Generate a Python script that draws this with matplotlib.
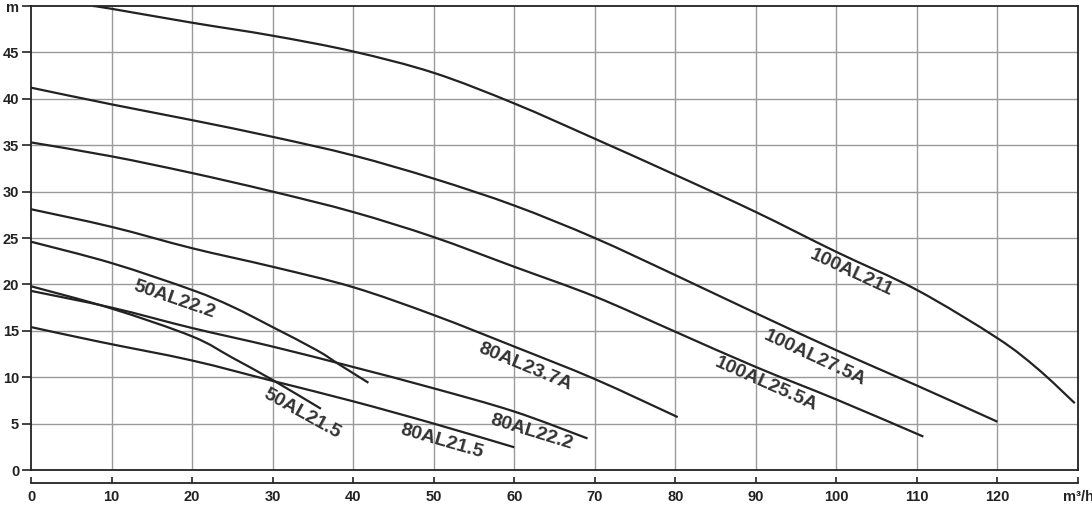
import matplotlib

matplotlib.use("Agg")
import matplotlib.pyplot as plt
from matplotlib.patches import PathPatch
from matplotlib.path import Path

# flow Q [m3/h] and head H [m]
q_100al211 = [7.7, 10, 20, 30, 40, 50, 60, 70, 80, 90, 100, 110, 120, 125, 129.6]
h_100al211 = [50.0, 49.7, 48.2, 46.8, 45.1, 42.8, 39.5, 35.7, 31.8, 27.8, 23.5, 19.4, 14.2, 10.9, 7.2]

q_100al275a = [0, 10, 20, 30, 40, 50, 60, 70, 80, 90, 100, 110, 120]
h_100al275a = [41.2, 39.4, 37.7, 35.9, 33.9, 31.4, 28.5, 25.0, 21.0, 16.9, 12.9, 9.1, 5.2]

q_100al255a = [0, 10, 20, 30, 40, 50, 60, 70, 80, 90, 100, 110.8]
h_100al255a = [35.3, 33.8, 32.0, 30.0, 27.8, 25.1, 21.9, 18.7, 14.9, 11.1, 7.6, 3.6]

q_80al237a = [0, 10, 20, 30, 40, 50, 60, 70, 80.3]
h_80al237a = [28.1, 26.2, 23.9, 21.9, 19.7, 16.7, 13.3, 9.8, 5.7]

q_50al222 = [0, 10, 20, 25, 30, 35.5, 38.4, 41.9]
h_50al222 = [24.6, 22.3, 19.4, 17.6, 15.4, 12.9, 11.3, 9.4]

q_80al222 = [0, 10, 20, 30, 40, 50, 60, 69.1]
h_80al222 = [19.3, 17.5, 15.3, 13.3, 11.1, 8.8, 6.3, 3.4]

q_50al215 = [0, 10, 20, 25, 30, 36]
h_50al215 = [19.8, 17.4, 14.4, 12.1, 9.7, 6.6]

q_80al215 = [0, 8.6, 20, 30, 40, 50, 60]
h_80al215 = [15.4, 13.8, 11.8, 9.6, 7.4, 5.0, 2.45]

curves = [
    (q_100al211, h_100al211),
    (q_100al275a, h_100al275a),
    (q_100al255a, h_100al255a),
    (q_80al237a, h_80al237a),
    (q_50al222, h_50al222),
    (q_80al222, h_80al222),
    (q_50al215, h_50al215),
    (q_80al215, h_80al215),
]

# curve names with label anchor (Q, H) and text angle
label_names = ["100AL211", "100AL27.5A", "100AL25.5A", "80AL23.7A",
               "50AL22.2", "80AL22.2", "50AL21.5", "80AL21.5"]
label_q = [101.9, 97.3, 91.3, 61.4, 17.8, 62.1, 33.7, 51.0]
label_h = [21.2, 12.0, 9.2, 11.1, 18.4, 4.1, 6.1, 3.1]
label_rot = [-25, -25, -24, -22.5, -19, -17, -29, -16]

x_ticks = list(range(0, 131, 10))
x_labels = [str(t) for t in x_ticks[:-1]] + ["m³/h"]
y_ticks = list(range(0, 51, 5))
y_labels = [str(t) for t in y_ticks[:-1]] + ["m"]


def smooth_path(xs, ys):
    """Catmull-Rom through the read points, as cubic Bezier segments."""
    pts = list(zip(xs, ys))
    verts = [pts[0]]
    codes = [Path.MOVETO]
    n = len(pts)
    for i in range(n - 1):
        p0 = pts[max(i - 1, 0)]
        p1 = pts[i]
        p2 = pts[i + 1]
        p3 = pts[min(i + 2, n - 1)]
        c1 = (p1[0] + (p2[0] - p0[0]) / 6, p1[1] + (p2[1] - p0[1]) / 6)
        c2 = (p2[0] - (p3[0] - p1[0]) / 6, p2[1] - (p3[1] - p1[1]) / 6)
        verts += [c1, c2, p2]
        codes += [Path.CURVE4] * 3
    return Path(verts, codes)


plt.rcParams["font.family"] = ["Liberation Sans", "DejaVu Sans"]

fig = plt.figure(figsize=(10.92, 5.12), dpi=100)
ax = fig.add_axes([31 / 1092, 1 - 470 / 512, 1047 / 1092, 464 / 512])

ink = "#222222"
for q, h in curves:
    ax.add_patch(PathPatch(smooth_path(q, h), facecolor="none", edgecolor=ink,
                           lw=1.6, capstyle="butt", zorder=3))

for name, q, h, rot in zip(label_names, label_q, label_h, label_rot):
    ax.text(q, h, name, rotation=rot, rotation_mode="anchor", ha="center",
            va="center", fontsize=14, fontweight="bold", color="#333333", zorder=4)

ax.set_xlim(0, 130)
ax.set_ylim(0, 50)

# grid
for x in range(10, 130, 10):
    ax.axvline(x, color="#9a9a9a", lw=1.0, zorder=1)
for y in range(5, 50, 5):
    ax.axhline(y, color="#9a9a9a", lw=1.0, zorder=1)
ax.axhline(0, color=ink, lw=1.3, zorder=2, clip_on=False)

for side in ("left", "top", "right"):
    ax.spines[side].set_color(ink)
    ax.spines[side].set_linewidth(1.3)
ax.spines["bottom"].set_position(("outward", 9.4))
ax.spines["bottom"].set_color(ink)
ax.spines["bottom"].set_linewidth(1.3)

ax.set_xticks(x_ticks, x_labels)
ax.set_yticks(y_ticks, y_labels)
ax.tick_params(axis="x", direction="in", length=4.5, width=1.2, color=ink,
               pad=5, labelsize=10.5, labelcolor=ink)
ax.tick_params(axis="y", direction="out", length=6.5, width=1.2, color=ink,
               pad=2, labelsize=10.5, labelcolor=ink)
for lab in ax.get_xticklabels() + ax.get_yticklabels():
    lab.set_fontweight("bold")

fig.savefig("out.png", dpi=100)
